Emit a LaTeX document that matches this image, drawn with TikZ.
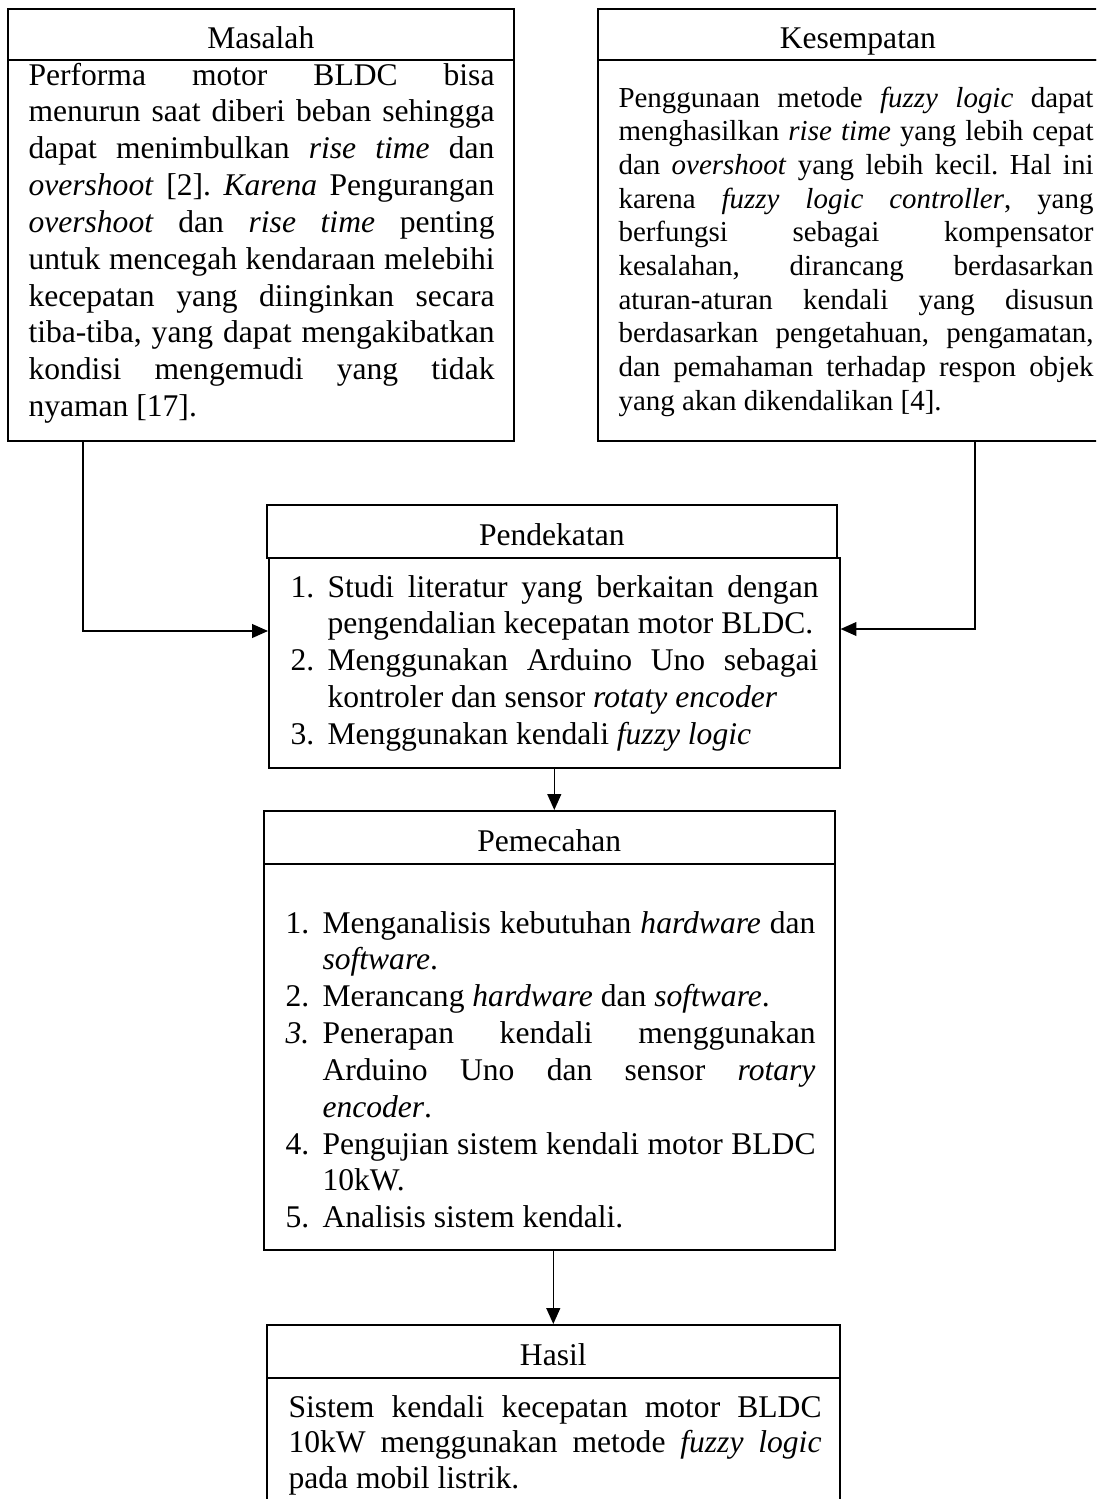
\documentclass[tikz,border=0pt]{standalone}
\usepackage{fontspec}
\setmainfont{Liberation Serif}
\usetikzlibrary{positioning,arrows.meta}
\newlength\pxu
\setlength\pxu{0.38pt}
\tikzstyle{frame}=[draw,anchor=north west,inner sep=0pt,line width=0.6pt]
\tikzstyle{titlebox}=[frame,font=\fontsize{12}{14}\selectfont,text height=10.8pt,text depth=0pt]
\tikzstyle{bodytext}=[anchor=base west,inner sep=0pt,align=justify,font=\fontsize{12}{14}\selectfont]
\tikzstyle{conn}=[draw,line width=0.6pt,-{Triangle[length=6pt,width=5.2pt]}]
\newcommand{\boxsetup}{\tolerance=10000\hyphenpenalty=10000\frenchspacing\parindent=0pt}
\newcommand{\numitem}[2]{\hangindent=37\pxu\hangafter=1\noindent\makebox[37\pxu][l]{#1}#2}
\begin{document}
\begin{tikzpicture}[x=0.38pt,y=-0.38pt]
\useasboundingbox (0,0) rectangle (1096,1499);
\clip (0,0) rectangle (1096,1499);

% frames
\node[titlebox,minimum width=506\pxu,minimum height=51\pxu] (masalahtitle) at (7,8) {Masalah};
\node[frame,minimum width=506\pxu,minimum height=381\pxu] (masalahbody) at (7,59) {};
\node[titlebox,minimum width=520\pxu,minimum height=51\pxu] (kesempatantitle) at (597,8) {Kesempatan};
\node[frame,minimum width=520\pxu,minimum height=381\pxu] (kesempatanbody) at (597,59) {};
\node[titlebox,minimum width=570\pxu,minimum height=53\pxu] (pendekatantitle) at (266,504) {Pendekatan};
\node[frame,minimum width=571\pxu,minimum height=210\pxu] (pendekatanbody) at (268,557) {};
\node[titlebox,minimum width=571\pxu,minimum height=53\pxu] (pemecahantitle) at (263,810) {Pemecahan};
\node[frame,minimum width=571\pxu,minimum height=386\pxu] (pemecahanbody) at (263,863) {};
\node[titlebox,minimum width=573\pxu,minimum height=53\pxu] (hasiltitle) at (266,1324) {Hasil};
\node[frame,minimum width=573\pxu,minimum height=170\pxu] (hasilbody) at (266,1377) {};

% texts
\node[bodytext,text width=466\pxu] (masalahtext) at (28,85) {\boxsetup
Performa motor BLDC bisa\linebreak
menurun saat diberi beban sehingga\linebreak
dapat menimbulkan \textit{rise time} dan\linebreak
\textit{overshoot} [2]. \textit{Karena} Pengurangan\linebreak
\textit{overshoot} dan \textit{rise time} penting\linebreak
untuk mencegah kendaraan melebihi\linebreak
kecepatan yang diinginkan secara\linebreak
tiba-tiba, yang dapat mengakibatkan\linebreak
kondisi mengemudi yang tidak\linebreak
nyaman [17].};

\node[bodytext,text width=475\pxu,font=\fontsize{11}{12.8}\selectfont] (kesempatantext) at (618,107) {\boxsetup
Penggunaan metode \textit{fuzzy logic} dapat\linebreak
menghasilkan \textit{rise time} yang lebih cepat\linebreak
dan \textit{overshoot} yang lebih kecil. Hal ini\linebreak
karena \textit{fuzzy logic controller}, yang\linebreak
berfungsi sebagai kompensator\linebreak
kesalahan, dirancang berdasarkan\linebreak
aturan-aturan kendali yang disusun\linebreak
berdasarkan pengetahuan, pengamatan,\linebreak
dan pemahaman terhadap respon objek\linebreak
yang akan dikendalikan [4].};

\node[bodytext,text width=528\pxu] (pendekatantext) at (290,597) {\boxsetup
\numitem{1.}{Studi literatur yang berkaitan dengan\linebreak pengendalian kecepatan motor BLDC.}\par
\numitem{2.}{Menggunakan Arduino Uno sebagai\linebreak kontroler dan sensor \textit{rotaty encoder}}\par
\numitem{3.}{Menggunakan kendali \textit{fuzzy logic}}};

\node[bodytext,text width=530\pxu] (pemecahantext) at (285,933) {\boxsetup
\numitem{1.}{Menganalisis kebutuhan \textit{hardware} dan\linebreak \textit{software}.}\par
\numitem{2.}{Merancang \textit{hardware} dan \textit{software}.}\par
\numitem{\textit{3.}}{Penerapan kendali menggunakan\linebreak Arduino Uno dan sensor \textit{rotary}\linebreak \textit{encoder}.}\par
\numitem{4.}{Pengujian sistem kendali motor BLDC\linebreak 10kW.}\par
\numitem{5.}{Analisis sistem kendali.}};

\node[bodytext,text width=533\pxu,font=\fontsize{12}{13.6}\selectfont] (hasiltext) at (288,1417) {\boxsetup
Sistem kendali kecepatan motor BLDC\linebreak
10kW menggunakan metode \textit{fuzzy logic}\linebreak
pada mobil listrik.};

% connectors
\coordinate (lbend) at (83,631);
\coordinate (rbend) at (975,629);
\path[conn] (masalahbody.south -| lbend) -- (lbend) -- (pendekatanbody.west |- lbend);
\path[conn] (kesempatanbody.south -| rbend) -- (rbend) -- (pendekatanbody.east |- rbend);
\path[conn] (pendekatanbody.south) -- (pendekatanbody.south |- pemecahantitle.north);
\path[conn] (pemecahanbody.south -| hasiltitle.north) -- (hasiltitle.north);
\end{tikzpicture}
\end{document}
